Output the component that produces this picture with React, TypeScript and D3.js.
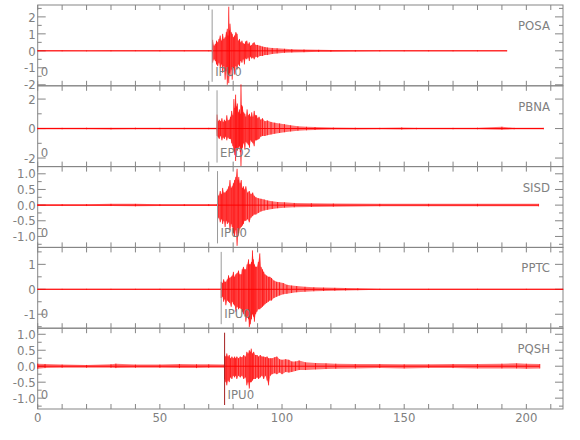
import React from "react";
import * as d3 from "d3";

// each sample: [time (s), max amplitude, min amplitude] over a short time bin
type Sample = [number, number, number];

const stations = ["POSA", "PBNA", "SISD", "PPTC", "PQSH"];
const phaseLabels = ["IPU0", "EPD2", "IPU0", "IPU0", "IPU0"];
const pickTimes = [71.4, 73.4, 73.6, 75.1, 76.5];
const ampRanges: [number, number][] = [
  [-2.06, 2.7],
  [-2.58, 2.9],
  [-1.35, 1.23],
  [-1.56, 1.68],
  [-1.34, 1.19],
];
const labelSteps = [1, 2, 0.5, 1, 0.5];
const minorSteps = [0.5, 1, 0.25, 0.5, 0.25];
const labelDecimals = [0, 0, 1, 0, 1];
const timeTicks = [0, 50, 100, 150, 200];

const posa: Sample[] = [
  [0, 0.03, -0.03], [10, 0.03, -0.03], [20, 0.02, -0.03], [30, 0.03, -0.03], [40, 0.03, -0.02],
  [50, 0.03, -0.03], [60, 0.03, -0.03], [70, 0.03, -0.03], [71.3, 0.03, -0.03],
  [71.6, 0.65, -0.7], [72.2, 0.3, -0.5], [72.7, 0.4, -0.6], [73.2, 0.6, -0.8], [73.7, 0.5, -0.9],
  [74.2, 0.7, -0.7], [74.7, 0.9, -1.0], [75.2, 0.6, -0.8], [75.7, 1.0, -1.3], [76.2, 0.7, -0.9],
  [76.7, 0.8, -1.7], [77.2, 1.1, -1.2], [77.6, 1.3, -2.0], [77.9, 0.9, -1.4], [78.2, 2.6, -1.9],
  [78.5, 1.2, -1.3], [78.7, 1.6, -1.5], [79.2, 1.1, -1.1], [79.6, 1.0, -1.7], [80.1, 0.8, -1.0],
  [80.6, 0.9, -1.4], [81.1, 1.1, -0.9], [81.6, 1.0, -1.1], [82.1, 0.6, -0.8], [82.6, 0.7, -0.9],
  [83.1, 0.5, -0.6], [83.6, 0.6, -0.7], [84.1, 0.45, -0.5], [84.6, 0.4, -0.8], [85.1, 0.55, -0.45],
  [85.6, 0.6, -0.5], [86.1, 0.4, -0.4], [86.6, 0.5, -0.6], [87.1, 0.3, -0.35], [87.6, 0.35, -0.45],
  [88.1, 0.45, -0.4], [88.6, 0.5, -0.5], [89.3, 0.35, -0.35], [90, 0.35, -0.4], [91, 0.3, -0.3],
  [92, 0.25, -0.3], [93, 0.22, -0.25], [94, 0.2, -0.25], [96, 0.17, -0.18], [98, 0.15, -0.15],
  [101, 0.12, -0.12], [104, 0.1, -0.1], [109, 0.08, -0.08], [115, 0.06, -0.06], [120, 0.05, -0.05],
  [130, 0.04, -0.04], [140, 0.03, -0.03], [150, 0.03, -0.03], [160, 0.03, -0.03], [170, 0.03, -0.03],
  [180, 0.03, -0.03], [192, 0.03, -0.03],
];

const pbna: Sample[] = [
  [0, 0.05, -0.05], [10, 0.05, -0.05], [20, 0.06, -0.05], [30, 0.05, -0.06], [40, 0.06, -0.05],
  [50, 0.05, -0.05], [60, 0.05, -0.05], [70, 0.05, -0.05], [73.2, 0.05, -0.05],
  [73.4, 0.95, -0.5], [73.9, 0.5, -0.6], [74.3, 0.6, -0.7], [74.8, 0.5, -0.5], [75.4, 0.7, -0.8],
  [75.9, 0.45, -0.6], [76.4, 0.6, -0.7], [76.9, 0.5, -0.55], [77.4, 0.9, -0.8], [77.9, 0.55, -0.6],
  [78.4, 0.6, -0.7], [78.9, 0.8, -0.7], [79.4, 1.2, -1.0], [79.9, 0.9, -1.2], [80.3, 2.0, -1.5],
  [80.7, 1.4, -1.8], [81.0, 2.3, -2.2], [81.4, 1.5, -1.4], [81.7, 1.7, -1.5], [82.2, 1.1, -1.3],
  [82.6, 1.3, -1.2], [82.9, 1.0, -1.6], [83.2, 3.0, -2.55], [83.5, 1.6, -1.5], [83.8, 1.5, -1.3],
  [84.3, 1.1, -1.0], [84.8, 1.0, -1.4], [85.2, 0.8, -0.9], [85.7, 1.3, -1.0], [86.2, 0.9, -1.1],
  [86.7, 1.0, -1.3], [87.2, 0.8, -0.8], [87.6, 1.1, -0.9], [88.1, 0.8, -1.0], [88.6, 1.2, -1.2],
  [89.1, 0.9, -0.8], [89.6, 0.9, -0.8], [90.1, 0.7, -0.75], [90.6, 0.8, -0.7], [91.3, 0.6, -0.55],
  [92, 0.7, -0.5], [93, 0.5, -0.5], [94, 0.55, -0.45], [95.5, 0.45, -0.4], [97, 0.4, -0.35],
  [99, 0.35, -0.3], [101, 0.3, -0.25], [103.5, 0.22, -0.2], [106.5, 0.15, -0.15], [110, 0.12, -0.12],
  [113.5, 0.1, -0.1], [121, 0.07, -0.07], [130, 0.06, -0.06], [140, 0.05, -0.05], [149, 0.08, -0.07],
  [155, 0.05, -0.05], [170, 0.05, -0.05], [180, 0.06, -0.05], [190, 0.12, -0.08], [195, 0.05, -0.05],
  [207, 0.05, -0.05],
];

const sisd: Sample[] = [
  [0, 0.03, -0.03], [10, 0.03, -0.03], [20, 0.03, -0.03], [30, 0.04, -0.03], [40, 0.04, -0.04],
  [50, 0.03, -0.03], [60, 0.03, -0.03], [70, 0.03, -0.03], [73.4, 0.03, -0.03],
  [73.6, 0.38, -0.5], [74.1, 0.3, -0.4], [74.7, 0.45, -0.55], [75.2, 0.35, -0.45], [75.7, 0.55, -0.6],
  [76.2, 0.4, -0.5], [76.7, 0.4, -0.7], [77.2, 0.45, -0.5], [77.6, 0.5, -0.6], [78.2, 0.6, -0.55],
  [78.7, 0.8, -0.8], [79.2, 0.55, -0.6], [79.6, 0.6, -0.7], [80.1, 0.7, -0.9], [80.6, 0.8, -1.0],
  [81.1, 0.9, -0.8], [81.6, 1.16, -1.3], [82.0, 0.8, -1.0], [82.3, 0.9, -0.9], [82.8, 0.7, -0.75],
  [83.3, 0.8, -0.7], [83.8, 0.55, -0.65], [84.2, 0.6, -0.6], [84.7, 0.5, -0.5], [85.2, 0.6, -0.5],
  [85.9, 0.4, -0.45], [86.6, 0.45, -0.55], [87.3, 0.35, -0.4], [88, 0.4, -0.35], [88.6, 0.3, -0.3],
  [89.3, 0.25, -0.3], [90.3, 0.22, -0.25], [91.4, 0.2, -0.2], [92.7, 0.18, -0.17], [94.1, 0.15, -0.15],
  [96, 0.12, -0.12], [98.2, 0.1, -0.1], [101, 0.09, -0.08], [105, 0.07, -0.07], [112, 0.06, -0.06],
  [121, 0.05, -0.05], [140, 0.04, -0.04], [160, 0.04, -0.04], [180, 0.04, -0.04], [205, 0.04, -0.04],
];

const pptc: Sample[] = [
  [0, 0.02, -0.02], [10, 0.02, -0.02], [20, 0.02, -0.02], [30, 0.02, -0.02], [40, 0.02, -0.02],
  [50, 0.02, -0.02], [60, 0.02, -0.02], [70, 0.02, -0.02], [75.0, 0.02, -0.02],
  [75.1, 0.3, -0.35], [75.6, 0.25, -0.3], [76.1, 0.4, -0.5], [76.6, 0.3, -0.4], [77.0, 0.3, -0.64],
  [77.6, 0.4, -0.45], [78.1, 0.56, -0.5], [78.6, 0.45, -0.55], [79.2, 0.5, -0.7], [79.6, 0.55, -0.5],
  [80.1, 0.7, -0.6], [80.6, 0.5, -0.65], [81.1, 0.6, -0.9], [81.6, 0.65, -0.7], [82.2, 0.75, -0.8],
  [82.7, 0.6, -0.75], [83.3, 0.6, -0.8], [83.7, 0.8, -0.9], [84.2, 0.9, -1.0], [84.7, 0.8, -0.9],
  [85.2, 0.8, -1.3], [85.7, 1.0, -1.1], [86.3, 1.2, -1.2], [86.6, 1.0, -1.52], [87.0, 1.0, -1.4],
  [87.5, 1.1, -1.2], [87.9, 1.56, -1.0], [88.3, 1.2, -1.1], [88.7, 1.0, -1.3], [89.2, 0.9, -1.0],
  [89.7, 0.9, -0.9], [90.3, 1.1, -0.8], [90.9, 1.44, -0.8], [91.4, 0.9, -0.75], [92, 0.8, -0.7],
  [92.5, 0.7, -0.65], [93, 0.6, -0.6], [93.7, 0.55, -0.55], [94.4, 0.5, -0.5], [95, 0.5, -0.45],
  [95.7, 0.45, -0.45], [96.7, 0.35, -0.35], [97.8, 0.3, -0.3], [99, 0.28, -0.25], [100.5, 0.25, -0.2],
  [102, 0.18, -0.18], [103.9, 0.15, -0.15], [106, 0.13, -0.12], [109.4, 0.1, -0.1], [113, 0.08, -0.08],
  [117, 0.07, -0.07], [121.6, 0.06, -0.06], [126, 0.05, -0.05], [131, 0.04, -0.04], [140, 0.02, -0.02],
  [160, 0.02, -0.02], [180, 0.02, -0.02], [200, 0.02, -0.02], [215, 0.02, -0.02],
];

const pqsh: Sample[] = [
  [0, 0.08, -0.08], [3, 0.07, -0.06], [10, 0.05, -0.05], [20, 0.04, -0.05], [30, 0.06, -0.05],
  [32, 0.08, -0.06], [40, 0.05, -0.05], [50, 0.05, -0.05], [58, 0.07, -0.06], [65, 0.06, -0.06],
  [70, 0.06, -0.05], [76.4, 0.05, -0.05],
  [76.5, 0.34, -0.4], [77.0, 0.3, -0.5], [77.4, 0.4, -0.6], [77.9, 0.3, -0.45], [78.4, 0.35, -0.5],
  [78.9, 0.25, -0.35], [79.5, 0.3, -0.4], [80.0, 0.25, -0.3], [80.6, 0.3, -0.35], [81.0, 0.25, -0.3],
  [81.5, 0.3, -0.4], [82.2, 0.25, -0.3], [82.9, 0.3, -0.35], [83.6, 0.28, -0.3], [84.3, 0.35, -0.4],
  [85.0, 0.3, -0.35], [85.6, 0.45, -0.6], [86.1, 0.4, -0.5], [86.6, 0.5, -0.7], [87.0, 0.45, -0.5],
  [87.4, 0.55, -0.5], [87.9, 0.4, -0.45], [88.4, 0.45, -0.4], [89.1, 0.35, -0.4], [89.8, 0.35, -0.35],
  [90.4, 0.3, -0.4], [91.1, 0.35, -0.35], [91.8, 0.3, -0.3], [92.5, 0.3, -0.4], [93.2, 0.28, -0.3],
  [93.9, 0.3, -0.45], [94.5, 0.25, -0.6], [95.2, 0.25, -0.3], [95.9, 0.25, -0.25], [97, 0.28, -0.22],
  [97.9, 0.3, -0.25], [99, 0.22, -0.2], [100, 0.2, -0.25], [101.5, 0.22, -0.18], [102.8, 0.2, -0.2],
  [104, 0.15, -0.18], [105.5, 0.15, -0.15], [107, 0.18, -0.12], [109.6, 0.12, -0.12], [113.7, 0.1, -0.1],
  [118, 0.09, -0.09], [122, 0.08, -0.08], [130, 0.07, -0.07], [140, 0.07, -0.06], [150, 0.06, -0.07],
  [160, 0.06, -0.06], [170, 0.07, -0.06], [180, 0.07, -0.07], [190, 0.08, -0.07], [196, 0.09, -0.07],
  [200, 0.08, -0.08], [205.5, 0.07, -0.07],
];

const traces = [posa, pbna, sisd, pptc, pqsh];

const W = 580;
const H = 440;
const margin = { top: 5, right: 17, bottom: 31, left: 37.7 };
const font = "'Liberation Sans Narrow', 'DejaVu Sans Condensed', 'Arial Narrow', sans-serif";
const grey = "#858585";
const textGrey = "#808080";

const x = d3.scaleLinear().domain([0, 215]).range([margin.left, W - margin.right]);
const panelH = (H - margin.top - margin.bottom) / stations.length;

const stepTicks = (lo: number, hi: number, step: number) =>
  d3.range(Math.ceil(lo / step - 1e-9), Math.floor(hi / step + 1e-9) + 1).map((k) => k * step);

export default function App() {
  const x0 = margin.left;
  const x1 = W - margin.right;
  const minorX = d3.range(0, 215, 10);

  return (
    <svg
      width={W}
      height={H}
      style={{ position: "absolute", left: 0, top: 0, background: "#fff" }}
      fontFamily={font}
    >
      {stations.map((name, i) => {
        const y0 = margin.top + i * panelH;
        const y1 = y0 + panelH;
        const y = d3.scaleLinear().domain(ampRanges[i]).range([y1, y0]);
        const data = traces[i];
        const area = d3
          .area<Sample>()
          .x((d) => x(d[0]))
          .y0((d) => y(d[2]))
          .y1((d) => y(d[1]));
        const tExtent = d3.extent(data, (d) => d[0]) as [number, number];
        const fmt = d3.format(labelDecimals[i] ? ".1f" : "d");
        const majors = stepTicks(ampRanges[i][0], ampRanges[i][1], labelSteps[i]);
        const minors = stepTicks(ampRanges[i][0], ampRanges[i][1], minorSteps[i]);
        const px = x(pickTimes[i]);
        return (
          <g key={name}>
            <rect x={x0} y={y0} width={x1 - x0} height={panelH} fill="none" stroke={grey} strokeWidth={1} />
            {minorX.map((t) => (
              <g key={t} stroke={grey}>
                <line x1={x(t)} x2={x(t)} y1={y0} y2={y0 + 5} />
                <line x1={x(t)} x2={x(t)} y1={y1} y2={y1 - 5} />
              </g>
            ))}
            {minors.map((v) => {
              const major = majors.some((m) => Math.abs(m - v) < 1e-9);
              const len = major ? 8 : 4;
              return (
                <g key={v} stroke={grey}>
                  <line x1={x0} x2={x0 + len} y1={y(v)} y2={y(v)} />
                  <line x1={x1} x2={x1 - len} y1={y(v)} y2={y(v)} />
                </g>
              );
            })}
            {majors.map((v) => (
              <text
                key={v}
                x={x0 - 2}
                y={y(v)}
                dy="0.36em"
                textAnchor="end"
                fontSize={13}
                fill={textGrey}
              >
                {fmt(v).replace("\u2212", "-")}
              </text>
            ))}
            {/* envelope of the trace */}
            <path d={area(data) || ""} fill="#ff0000" fillOpacity={0.55} stroke="none" />
            {/* min-max swing of each time bin */}
            <g stroke="#ff0000" strokeWidth={1} strokeOpacity={0.75}>
              {data.map((d) => (
                <line key={d[0]} x1={x(d[0])} x2={x(d[0])} y1={y(d[1])} y2={y(d[2])} />
              ))}
            </g>
            <line
              x1={x(tExtent[0])}
              x2={x(tExtent[1])}
              y1={y(0)}
              y2={y(0)}
              stroke="#ff0000"
              strokeWidth={1}
            />
            <line
              x1={px}
              x2={px}
              y1={y0 + 4.5}
              y2={y1 - 4}
              stroke={i === 4 ? "#a52020" : "#9a9a9a"}
              strokeWidth={1}
            />
            <text x={px + 3} y={y1 - 10} fontSize={13} fill={textGrey}>
              {phaseLabels[i]}
            </text>
            <text x={x0 + 3} y={y1 - 10} fontSize={13} fill={textGrey}>
              0
            </text>
            <text x={550} y={y0 + 25} fontSize={13} textAnchor="end" fill={textGrey}>
              {name}
            </text>
          </g>
        );
      })}
      {timeTicks.map((t) => (
        <text key={t} x={x(t)} y={H - 18} textAnchor="middle" fontSize={13} fill={textGrey}>
          {t}
        </text>
      ))}
    </svg>
  );
}
